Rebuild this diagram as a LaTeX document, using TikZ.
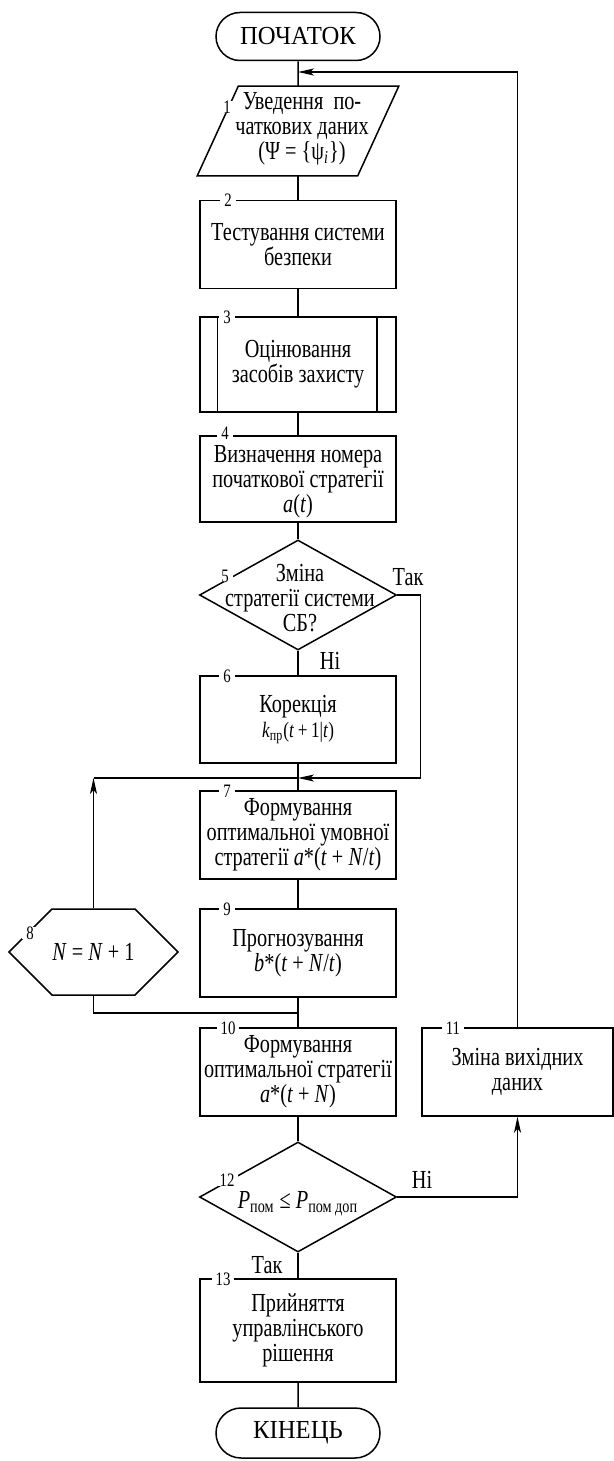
\documentclass[tikz,border=0pt]{standalone}
\usepackage{fontspec}
\setmainfont{Liberation Serif}[FakeStretch=0.78]
\newfontfamily\termfont{Liberation Serif}[FakeStretch=0.95]
\usetikzlibrary{shapes.geometric,shapes.misc,shapes.symbols,arrows.meta,calc}

\begin{document}
\begin{tikzpicture}[x=0.5pt, y=-0.5pt, line width=0.75pt,
    font=\fontsize{13}{12.5}\selectfont,
    block/.style={draw, minimum width=98pt, minimum height=44pt, inner sep=0pt, align=center},
    term/.style={draw, rounded rectangle, minimum width=82pt, minimum height=24pt, inner sep=0pt,
        font=\termfont\fontsize{13}{12.5}\selectfont},
    decision/.style={draw, diamond, minimum width=98.5pt, minimum height=55pt, inner sep=0pt},
    loopbox/.style={draw, signal, signal to=west and east, signal pointer angle=90,
        minimum width=84.5pt, minimum height=43pt, inner sep=0pt},
    numlab/.style={fill=white, inner xsep=2pt, inner ysep=0pt, font=\fontsize{9.5}{9.5}\selectfont},
    arr/.style={-{Stealth[length=8pt, width=3.5pt, inset=2pt]}}
]
    \useasboundingbox (0,0) rectangle (614,1461);

    % Start and input
    \node[term] (start) at (298,36.5) {ПОЧАТОК};
    \node[minimum width=100pt, minimum height=44pt, inner sep=0pt] (p1) at (298,131) {};
    \draw ($(p1.north west)+(41,0)$) -- (p1.north east) -- ($(p1.south east)+(-41,0)$)
        -- (p1.south west) -- cycle;
    \node[align=center] (p1t) at (302,129) {Уведення \ по-\\чаткових даних\\(Ψ = \{ψ\textsubscript{\textit{i}}\})};

    % Main column
    \node[block] (b2) at (298,244.5) {Тестування системи\\безпеки};
    \node[block, minimum height=47.5pt] (b3) at (298,364.5) {Оцінювання\\засобів захисту};
    \draw ([xshift=9pt]b3.north west) -- ([xshift=9pt]b3.south west)
          ([xshift=-10pt]b3.north east) -- ([xshift=-10pt]b3.south east);
    \node[block, minimum height=43pt] (b4) at (298,479) {};
    \node[align=center] (b4t) at (298,482) {Визначення номера\\початкової стратегії\\\textit{a}(\textit{t})};
    \node[decision] (d5) at (298,595) {};
    \node[align=center] (d5t) at (300,598) {Зміна\\стратегії системи\\СБ?};
    \node[block, minimum height=43.5pt] (b6) at (298,719.5) {Корекція\\{\fontsize{11}{12}\selectfont\textit{k}\textsubscript{пр}(\textit{t}\,+\,1|\textit{t})}};
    \node[block] (b7) at (298,835) {Формування\\оптимальної умовної\\стратегії \textit{a}*(\textit{t} + \textit{N}/\textit{t})};
    \node[block] (b9) at (298,953) {Прогнозування\\\textit{b}*(\textit{t} + \textit{N}/\textit{t})};
    \node[block] (b10) at (298,1072) {Формування\\оптимальної стратегії\\\textit{a}*(\textit{t} + \textit{N})};
    \node[decision] (d12) at (298,1197) {};
    \node (d12t) at (298,1204) {\textit{P}\textsubscript{пом} ≤ \textit{P}\textsubscript{пом доп}};
    \node[block, minimum height=51.5pt] (b13) at (298,1330.5) {Прийняття\\управлінського\\рішення};
    \node[term, minimum height=25pt] (end) at (298,1433) {КІНЕЦЬ};

    % Side blocks
    \node[loopbox] (h8) at (93.5,952) {\textit{N} = \textit{N} + 1};
    \node[block, minimum width=95.5pt] (b11) at (517.5,1072) {Зміна вихідних\\даних};

    % Junctions on the main line
    \coordinate (j0) at (298,72);
    \coordinate (j1) at (298,778);
    \coordinate (j2) at (298,1013);

    % Main flow
    \draw (start) -- (p1);
    \draw (p1) -- (b2);
    \draw (b2) -- (b3);
    \draw (b3) -- (b4);
    \draw (b4) -- (d5);
    \draw (d5) -- (b6);
    \draw (b6) -- (b7);
    \draw (b7) -- (b9);
    \draw (b9) -- (b10);
    \draw (b10) -- (d12);
    \draw (d12) -- (b13);
    \draw (b13) -- (end);

    % Loops
    \draw[arr] (d5.east) -- ++(23,0) |- (j1);
    \draw[arr] (h8.north) -- (h8.north |- j1);
    \draw (h8.north |- j1) -- (j1);
    \draw (h8.south) |- (j2);
    \draw[arr] (d12.east) -| (b11.south);
    \draw[arr] (b11.north) |- (j0);

    % Branch labels
    \node (yes5) at (408,577) {Так};
    \node (no5) at (330,661) {Ні};
    \node (no12) at (422,1180) {Ні};
    \node (yes12) at (267,1265) {Так};

    % Block numbers
    \node[numlab] (n1) at (227,107) {1};
    \node[numlab] (n2) at (228,200) {2};
    \node[numlab] (n3) at (227,317) {3};
    \node[numlab] (n4) at (225,433) {4};
    \node[numlab] (n5) at (225,576) {5};
    \node[numlab] (n6) at (227,676) {6};
    \node[numlab] (n7) at (227,791) {7};
    \node[numlab] (n8) at (30,933) {8};
    \node[numlab] (n9) at (227,909) {9};
    \node[numlab] (n10) at (228,1028) {10};
    \node[numlab] (n11) at (453,1028) {11};
    \node[numlab] (n12) at (227,1180) {12};
    \node[numlab] (n13) at (223,1279) {13};
\end{tikzpicture}
\end{document}
